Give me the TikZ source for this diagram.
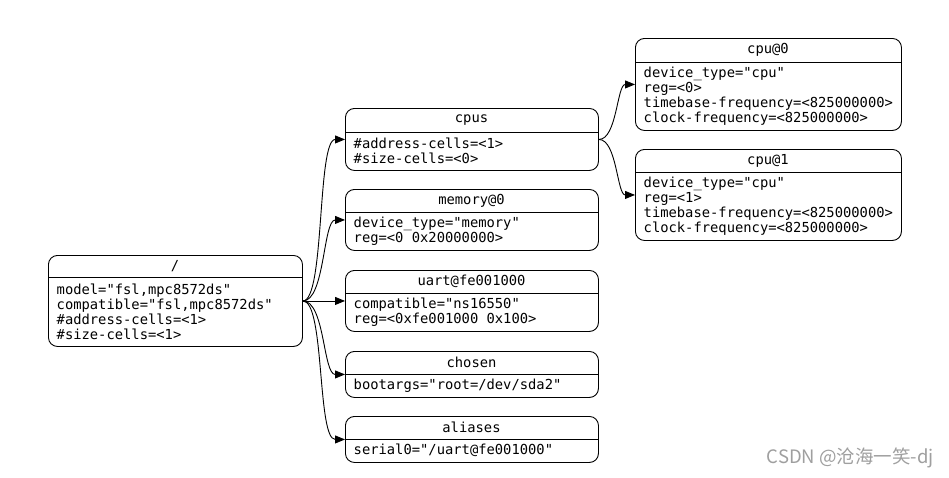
\documentclass[tikz,border=0pt]{standalone}
\usepackage{fontspec}
\setmonofont{DejaVu Sans Mono}
\newfontfamily\cjkfont{Noto Sans CJK SC}
\usetikzlibrary{arrows.meta}
\tikzset{
  rec/.style={draw, rounded corners=9pt, line width=0.9pt, inner sep=0pt, anchor=north west},
  divline/.style={line width=0.9pt},
  ttl/.style={inner sep=0pt, anchor=center, font=\ttfamily\fontsize{13.8}{15}\selectfont},
  bdy/.style={inner sep=0pt, anchor=west, align=left, font=\ttfamily\fontsize{13.8}{15}\selectfont},
  edge/.style={line width=0.9pt, -{Triangle[length=10pt,width=8pt]}}
}
\newcommand\recnode[8]{%
  \node[rec, minimum width={#4-#2}, minimum height={#5-#3}] (#1) at (#2,#3) {};
  \draw[divline] (#2,#6) -- (#4,#6);
  \node[ttl] (#1-t) at ({(#2+#4)/2},{(#3+#6)/2}) {#7};
  \node[bdy] (#1-b) at ({#2+8.5},{(#6+#5)/2}) {#8};
}
\begin{document}
\begin{tikzpicture}[x=1pt,y=-1pt]
\useasboundingbox[fill=white] (0,0) rectangle (949,477);
\recnode{root}{48}{255}{302}{346}{277}{/}{model="fsl,mpc8572ds"\\compatible="fsl,mpc8572ds"\\\#address-cells=<1>\\\#size-cells=<1>}
\recnode{cpus}{345}{108}{598}{170}{132}{cpus}{\#address-cells=<1>\\\#size-cells=<0>}
\recnode{memory}{345}{189}{598}{250}{212}{memory@0}{device\_type="memory"\\reg=<0 0x20000000>}
\recnode{uart}{345}{270}{598}{331}{293}{uart@fe001000}{compatible="ns16550"\\reg=<0xfe001000 0x100>}
\recnode{chosen}{345}{351}{598}{397}{374}{chosen}{bootargs="root=/dev/sda2"}
\recnode{aliases}{345}{416}{598}{462}{439}{aliases}{serial0="/uart@fe001000"}
\recnode{cpu0}{635}{38}{901}{130}{62}{cpu@0}{device\_type="cpu"\\reg=<0>\\timebase-frequency=<825000000>\\clock-frequency=<825000000>}
\recnode{cpu1}{635}{149}{901}{240}{172}{cpu@1}{device\_type="cpu"\\reg=<1>\\timebase-frequency=<825000000>\\clock-frequency=<825000000>}
\draw[edge] (root.east) .. controls +(22,0) and +(-28,0) .. (cpus.west);
\draw[edge] (root.east) .. controls +(22,0) and +(-22,0) .. (memory.west);
\draw[edge] (root.east) -- (uart.west);
\draw[edge] (root.east) .. controls +(22,0) and +(-22,0) .. (chosen.west);
\draw[edge] (root.east) .. controls +(22,0) and +(-28,0) .. (aliases.west);
\draw[edge] (cpus.east) .. controls +(18,0) and +(-18,0) .. (cpu0.west);
\draw[edge] (cpus.east) .. controls +(18,0) and +(-18,0) .. (cpu1.west);
\node[text=gray!75, font=\cjkfont\fontsize{18.5}{18.5}\selectfont, anchor=east, inner sep=0pt] (wm) at (934,458) {CSDN @沧海一笑-dj};
\end{tikzpicture}
\end{document}
